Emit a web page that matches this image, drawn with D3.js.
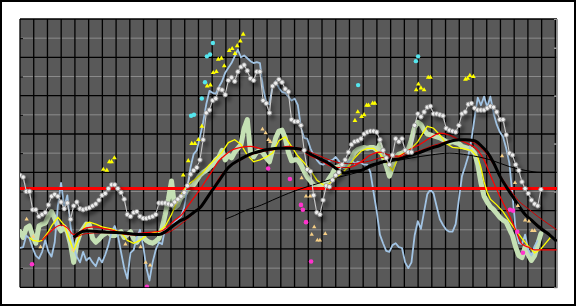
<!DOCTYPE html>
<html>
<head>
<meta charset="utf-8">
<script src="https://cdn.jsdelivr.net/npm/d3@7"></script>
<style>
  body { margin: 0; background: #fff; }
</style>
</head>
<body>
<svg id="chart" width="576" height="307"></svg>
<script>
// weekly series, index = week number from the first week
let whiteVals = [117,115,100,100,81,81,74,76,78,86,
  95,97,95,89,82,88,71,85,89,82,
  81,82,83,85,87,91,96,98,103,107,
  107,103,99,92,76,74,78,79,74,72,
  72,73,74,76,88,88,88,87,86,89,
  92,95,99,106,118,122,125,133,154,182,
  185,195,197,207,206,201,216,219,215,225,
  230,232,226,218,216,225,225,195,192,182,
  210,213,217,214,207,204,175,173,173,169,
  143,123,121,96,78,76,91,106,105,112,
  117,120,128,133,141,149,152,153,155,160,
  162,163,163,162,154,143,135,128,138,155,
  152,155,143,141,141,169,181,178,183,188,
  189,181,181,180,179,166,164,163,162,169,
  181,183,191,192,187,185,185,185,187,189,
  188,183,175,175,159,140,138,128,122,110,
  103,98,91,87,85,102]

let blueVals = [41,42,54,51,41,33,30,37,49,37,
  32,47,85,109,84,96,64,42,32,26,
  37,28,31,26,22,31,26,34,44,58,
  64,54,37,20,9,36,39,52,60,44,
  21,7,26,39,47,45,62,60,64,68,
  71,74,83,104,125,139,143,157,172,191,
  205,203,202,209,215,224,229,234,241,248,
  240,242,239,236,234,235,234,208,193,191,
  210,215,208,204,203,199,195,197,190,167,
  156,155,145,138,133,129,128,130,132,133,
  136,132,126,124,131,133,129,131,130,128,
  128,120,99,79,55,46,38,37,44,46,
  42,41,26,20,26,54,69,61,79,97,
  102,98,84,71,65,60,58,58,66,91,
  116,126,137,154,177,198,190,199,188,199,
  182,170,162,157,145,130,96,60,46,45,
  55,39,33,43,49]

let greenVals = [58,52,62,64,54,46,64,66,67,74,
  79,72,64,59,63,58,45,26,46,56,
  61,66,65,51,47,50,54,56,58,54,
  54,56,58,52,55,58,51,47,52,52,
  49,47,46,48,51,62,76,92,111,83,
  86,94,96,102,104,107,112,117,120,122,
  125,128,133,136,143,133,138,135,141,145,
  149,166,175,141,136,141,143,140,135,131,
  143,156,163,164,156,141,132,133,133,128,
  121,115,111,107,106,106,107,109,114,119,
  125,126,128,126,128,135,141,144,145,146,
  145,146,146,143,149,136,127,116,125,135,
  139,140,142,144,154,167,172,170,164,160,
  159,158,157,156,154,152,151,152,151,150,
  147,146,145,144,140,128,109,95,89,84,
  81,77,73,70,68,61,54,42,33,31,
  42,34,28,33,45,56]

// [week, value]
let yellowPts = [[3,52],[4,49],[6,48],[7,49],[9,58],[10,64],[12,73],[14,65],[16,47],[17,38],
  [19,54],[21,67],[22,68],[24,66],[26,63],[29,61],[32,57],[34,49],[36,46],[38,49],
  [40,54],[42,57],[44,58],[46,64],[48,76],[50,91],[52,102],[54,109],[56,114],[58,120],
  [60,128],[62,134],[64,141],[66,151],[68,154],[70,149],[72,138],[74,131],[76,133],[78,136],
  [80,140],[82,153],[84,157],[86,147],[88,137],[90,130],[92,122],[94,112],[96,107],[98,108],
  [100,114],[102,119],[104,126],[106,135],[108,142],[110,145],[112,145],[114,139],[116,131],[118,122],
  [120,137],[122,141],[124,145],[126,152],[128,163],[129,168],[131,166],[133,159],[135,150],[137,146],
  [140,145],[143,143],[145,136],[146,125],[147,110],[148,99],[149,92],[151,86],[153,79],[155,69],
  [157,60],[159,51],[161,43],[163,36],[165,40],[167,48],[168,52]]

let redFastPts = [[7,49],[9,56],[11,62],[13,65],[15,62],[17,55],[19,58],[21,62],[24,63],[27,61],
  [30,59],[34,55],[37,56],[40,57],[43,58],[45,59],[47,64],[49,70],[51,75],[53,84],
  [55,93],[57,102],[59,112],[61,122],[63,132],[65,138],[67,143],[70,146],[73,147],[76,145],
  [79,143],[82,145],[85,147],[89,143],[92,137],[95,133],[98,127],[101,125],[104,125],[108,131],
  [111,138],[114,141],[117,138],[120,137],[123,143],[126,148],[130,156],[133,161],[136,159],[139,154],
  [143,148],[145,143],[147,133],[149,117],[152,95],[155,75],[157,60],[159,45],[161,42],[163,39],
  [165,39],[170,39]]

let redSlowPts = [[17,51],[21,56],[26,57],[32,56],[38,54],[44,55],[48,59],[51,66],[54,74],[57,84],
  [60,96],[63,114],[66,125],[70,133],[73,138],[76,141],[79,143],[82,145],[86,146],[89,145],
  [92,141],[95,137],[98,133],[101,130],[104,129],[108,130],[111,132],[114,135],[117,136],[120,136],
  [123,139],[127,143],[130,147],[133,150],[136,153],[139,154],[142,153],[145,148],[148,138],[150,128],
  [152,117],[155,103],[158,90],[161,82],[164,74],[167,67],[170,60]]

let blackPts = [[17,52],[19,57],[21,59],[25,58],[32,57],[38,55],[44,55],[46,58],[48,63],[50,68],
  [53,73],[55,78],[57,83],[60,97],[63,111],[66,125],[70,134],[73,139],[76,142],[79,144],
  [82,145],[86,145],[89,144],[92,139],[95,134],[98,129],[101,122],[103,119],[105,121],[108,122],
  [111,127],[114,130],[117,133],[120,134],[123,137],[126,140],[130,145],[133,148],[136,152],[139,154],
  [141,154],[144,153],[146,148],[148,141],[150,130],[152,116],[154,105],[156,95],[158,85],[160,76],
  [162,70],[164,64],[166,59],[168,54],[170,48]]

let blackThinPts = [[65,71],[68,75],[72,81],[75,84],[78,88],[80,91],[85,98],[91,105],[96,110],[101,115],
  [107,120],[111,125],[114,129],[119,132],[124,135],[130,138],[136,140],[142,138],[149,133],[155,126],
  [160,122],[165,120],[170,120]]

let levelLine = 103

let cyanDots = [[54.2,179],[55.1,180],[57.6,197],[58.6,214],[59.2,241],[60.2,243],[61.1,255],
  [107.1,211],[125.4,236],[126.1,241]]

let yellowTri = [[26.4,123],[27.5,122],[28.3,131],[29.0,131],[29.9,135],
  [51.7,117],[53.3,132],[54.4,150],[55.4,150],[56.5,154],[57.6,168],
  [59.3,210],[60.3,211],[61.2,224],[62.2,225],[62.8,238],[63.8,239],[64.7,231],[66.3,247],
  [67.2,249],[68.1,244],[68.8,252],[69.8,257],[70.7,264],
  [106.1,174],[107.0,183],[108.2,178],[109.0,180],[109.8,190],[110.4,190],[111.7,192],[112.4,192],
  [125.5,206],[126.2,212],[127.0,208],[128.0,206],[129.3,219],[130.0,219],
  [141.1,217],[141.8,218],[142.5,221],[143.6,220]]

let tanTri = [[2.1,71],[4.2,53],[6.5,42],[16.8,39],[33.4,45],[38.2,42],[39.8,26],[41.2,23],
  [76.8,165],[77.8,161],[78.7,154],[79.3,152],[89.2,114],[90.6,95],[91.9,95],
  [93.2,63],[92.4,55],[96.7,56],[94.2,49],[95.0,49],
  [152.7,137],[156.8,109],[157.7,85],[160.0,70],[161.2,69],[162.2,59],[163.0,59]]

let pinkDots = [[3.8,24],[40.2,0.5],[78.6,124],[85.5,113],[89.0,86],[89.6,81],[90.6,68],[92.2,27],
  [155.2,81],[156.2,80],[157.5,58],[159.3,36]]

let weeksPerMonth = 365.25 / 12 / 7

let svg = d3.select('#chart')
let width = +svg.attr('width')
let height = +svg.attr('height')
let margin = {top: 19, right: 19, bottom: 19.7, left: 20}

let x = d3.scaleLinear().domain([0, 170.1]).range([margin.left, width - margin.right])
let y = d3.scaleLinear().domain([0, 280]).range([height - margin.bottom, margin.top])
let yRight = d3.scaleLinear().domain([0, 5.6]).range([height - margin.bottom, margin.top])

let defs = svg.append('defs')
defs.append('filter').attr('id', 'shadow')
    .attr('x', '-10%').attr('y', '-10%').attr('width', '130%').attr('height', '130%')
  .append('feDropShadow')
    .attr('dx', 3).attr('dy', 4).attr('stdDeviation', 2)
    .attr('flood-color', '#000').attr('flood-opacity', 0.55)
defs.append('clipPath').attr('id', 'plotclip')
  .append('rect')
    .attr('x', x(0)).attr('y', y(280))
    .attr('width', x(170.1) - x(0)).attr('height', y(0) - y(280))

// outer frame
svg.append('rect')
    .attr('x', 1).attr('y', 1).attr('width', width - 2).attr('height', height - 3)
    .attr('fill', '#fff').attr('stroke', '#000').attr('stroke-width', 2)

// plot area
svg.append('rect')
    .attr('x', x(0)).attr('y', y(280))
    .attr('width', x(170.1) - x(0)).attr('height', y(0) - y(280))
    .attr('fill', '#595959')

let grid = svg.append('g')
grid.selectAll('.minor')
    .data(d3.range(20, 280, 40))
    .enter().append('line')
    .attr('x1', x(0)).attr('x2', x(170.1))
    .attr('y1', d => y(d)).attr('y2', d => y(d))
    .attr('stroke', '#8c8c8c').attr('stroke-width', 1)
grid.selectAll('.major')
    .data(d3.range(0, 281, 40))
    .enter().append('line')
    .attr('x1', x(0)).attr('x2', x(170.1))
    .attr('y1', d => y(d)).attr('y2', d => y(d))
    .attr('stroke', '#000').attr('stroke-width', 1.3)
grid.selectAll('.month')
    .data(d3.range(0, 40))
    .enter().append('line')
    .attr('x1', d => x(d * weeksPerMonth)).attr('x2', d => x(d * weeksPerMonth))
    .attr('y1', y(0)).attr('y2', y(280))
    .attr('stroke', '#000').attr('stroke-width', 1.3)

// right edge of the plot
svg.append('line')
    .attr('x1', x(170.1)).attr('x2', x(170.1))
    .attr('y1', y(0)).attr('y2', y(280))
    .attr('stroke', '#9a9a9a').attr('stroke-width', 1.5)

// axes ticks (no labels)
svg.append('g')
    .attr('transform', 'translate(' + x(0) + ',0)')
    .call(d3.axisRight(y).tickValues(d3.range(20, 280, 40)).tickSize(3).tickFormat(''))
    .call(g => g.select('.domain').remove())
svg.append('g')
    .attr('transform', 'translate(' + x(170.1) + ',0)')
    .call(d3.axisLeft(yRight).tickValues([1, 2, 3, 4, 5]).tickSize(3).tickFormat(''))
    .call(g => g.select('.domain').attr('stroke', '#9a9a9a'))
    .selectAll('.tick line').attr('stroke', '#9a9a9a').attr('stroke-width', 1.5)

let plot = svg.append('g').attr('clip-path', 'url(#plotclip)')

let weekLine = d3.line()
    .x((d, i) => x(i))
    .y(d => y(d))
let ptLine = d3.line()
    .x(d => x(d[0]))
    .y(d => y(d[1]))
let smoothLine = d3.line()
    .x(d => x(d[0]))
    .y(d => y(d[1]))
    .curve(d3.curveMonotoneX)

plot.append('path').datum(greenVals)
    .attr('d', weekLine)
    .attr('fill', 'none').attr('stroke', '#c5e0b4').attr('stroke-width', 5)
    .attr('stroke-linejoin', 'round').attr('stroke-linecap', 'round')

plot.append('path').datum(blueVals)
    .attr('d', weekLine)
    .attr('fill', 'none').attr('stroke', '#a2c4e4').attr('stroke-width', 1.8)
    .attr('stroke-linejoin', 'round')

plot.append('line')
    .attr('x1', x(0)).attr('x2', x(170.1))
    .attr('y1', y(levelLine)).attr('y2', y(levelLine))
    .attr('stroke', '#ff0000').attr('stroke-width', 3)

plot.append('path').datum(yellowPts)
    .attr('d', ptLine)
    .attr('fill', 'none').attr('stroke', '#ffff00').attr('stroke-width', 1.3)

plot.append('path').datum(redSlowPts)
    .attr('d', smoothLine)
    .attr('fill', 'none').attr('stroke', '#d40000').attr('stroke-width', 1)

plot.append('path').datum(redFastPts)
    .attr('d', smoothLine)
    .attr('fill', 'none').attr('stroke', '#ff0000').attr('stroke-width', 1.2)

plot.append('path').datum(blackThinPts)
    .attr('d', smoothLine)
    .attr('fill', 'none').attr('stroke', '#000').attr('stroke-width', 1)

plot.append('path').datum(blackPts)
    .attr('d', smoothLine)
    .attr('fill', 'none').attr('stroke', '#000').attr('stroke-width', 3)

// white marker series with its drop shadow
let whiteG = plot.append('g').attr('filter', 'url(#shadow)')
whiteG.append('path').datum(whiteVals)
    .attr('d', weekLine)
    .attr('fill', 'none').attr('stroke', '#d0d0d0').attr('stroke-width', 1)
whiteG.selectAll('circle')
    .data(whiteVals)
    .enter().append('circle')
    .attr('cx', (d, i) => x(i))
    .attr('cy', d => y(d))
    .attr('r', 2.2)
    .attr('fill', '#eeeeee').attr('stroke', '#8f8f8f').attr('stroke-width', 0.8)

let tri = d3.symbol().type(d3.symbolTriangle)

plot.selectAll('.tan')
    .data(tanTri)
    .enter().append('path')
    .attr('d', tri.size(8)())
    .attr('transform', d => 'translate(' + x(d[0]) + ',' + y(d[1]) + ')')
    .attr('fill', '#f6cf86')

plot.selectAll('.ytri')
    .data(yellowTri)
    .enter().append('path')
    .attr('d', tri.size(10)())
    .attr('transform', d => 'translate(' + x(d[0]) + ',' + y(d[1]) + ')')
    .attr('fill', '#ffff00')

plot.selectAll('.cyan')
    .data(cyanDots)
    .enter().append('circle')
    .attr('cx', d => x(d[0])).attr('cy', d => y(d[1]))
    .attr('r', 2.2)
    .attr('fill', '#55e6ee')

plot.selectAll('.pink')
    .data(pinkDots)
    .enter().append('circle')
    .attr('cx', d => x(d[0])).attr('cy', d => y(d[1]))
    .attr('r', 2.3)
    .attr('fill', '#ff33cc')
</script>
</body>
</html>
